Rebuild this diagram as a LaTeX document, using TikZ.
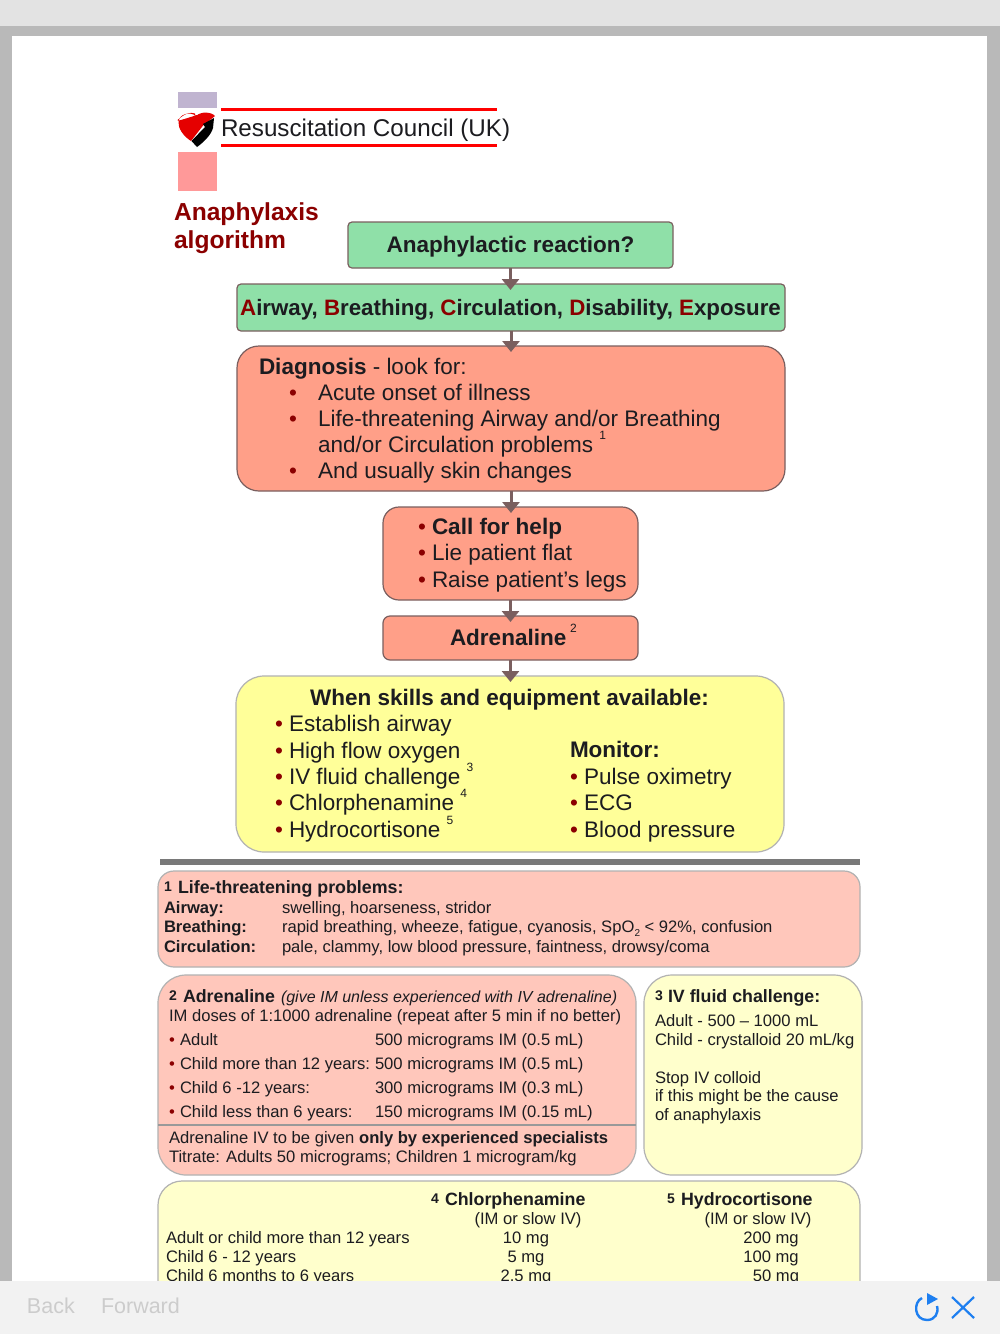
\documentclass[tikz,border=0pt]{standalone}
\usepackage{fontspec}
\setmainfont{Liberation Sans}
\usetikzlibrary{arrows.meta}
\definecolor{edgeb}{HTML}{7A5F5F}
\definecolor{grn}{HTML}{8FE0A8}
\definecolor{sal}{HTML}{FF9F88}
\definecolor{yel}{HTML}{FFFF99}
\definecolor{pinkb}{HTML}{FFC7BB}
\definecolor{yelb}{HTML}{FFFFCC}
\definecolor{dred}{HTML}{8B0000}
\definecolor{ink}{HTML}{1C1C20}
\definecolor{ios}{HTML}{1E7FF0}
\tikzset{
  tx/.style={inner sep=0pt,outer sep=0pt,anchor=base west,text=ink},
  tc/.style={inner sep=0pt,outer sep=0pt,anchor=base,text=ink},
  fs/.style={font=\fontsize{#1}{#1}\selectfont},
  boxa/.style={draw=edgeb,line width=1.2pt,inner sep=0pt,outer sep=0pt},
  boxb/.style={draw=black!30,line width=1.2pt,inner sep=0pt,outer sep=0pt},
  flow/.style={draw=edgeb,line width=3pt,-{Triangle[width=17pt,length=11pt]},shorten >=-6pt},
  bul/.style={inner sep=0pt,outer sep=0pt,anchor=base west,text=dred},
  lg/.style={fs=22.5},
  md/.style={fs=16.6},
  hd/.style={fs=17.8},
}
\newcommand\rbox[7]{\node[#6,rounded corners=#7pt,minimum width={(#4-#2)*1pt},minimum height={(#5-#3)*1pt}] (#1) at ({(#2+#4)/2},{(#3+#5)/2}) {};}
\newcommand\tl[5][]{\node[tx,#1] (#2) at (#3,#4) {#5};}
\newcommand\cl[5][]{\node[tc,#1] (#2) at (#3,#4) {#5};}
\newcommand\bl[4][lg]{\node[bul,#1] (#2) at (#3,#4) {•};}
\newcommand\supn[1]{\raisebox{0.55em}{\fontsize{12}{12}\selectfont #1}}
\begin{document}
\begin{tikzpicture}[x=1pt,y=-1pt]
\useasboundingbox (0,0) rectangle (1000,1334);
% window
\fill[black!27!white,fill=gray!55] (0,26) rectangle (1000,1334);
\fill[gray!22] (0,0) rectangle (1000,26);
\fill[white] (12,36) rectangle (987,1334);
% logo
\fill[fill={rgb,255:red,192;green,180;blue,208}] (178,92) rectangle (217,108);
\fill[fill={rgb,255:red,255;green,153;blue,153}] (178,152) rectangle (217,191);
\draw[red,line width=3pt] (221,109.5) -- (497,109.5);
\draw[red,line width=3pt] (221,145.5) -- (497,145.5);
\fill[red!90!black] (195,113.5) .. controls (190,112) and (186,113) .. (180,118) .. controls (175,122) .. (197,115)
  -- (205,123) -- (191,141) .. controls (183,136) and (178,128) .. (178.5,122) .. controls (179,114) and (190,111) .. (196,116)
  .. controls (201,111) and (212,112) .. (215,116) -- (204,125) -- (197,124) -- cycle;
\fill[black] (191.5,141) -- (205,127) -- (203,124) -- (214,118) -- (213,128) .. controls (211,135) and (204,142) .. (197,147) -- cycle;
\tl[fs=24.2]{rc}{221}{136}{Resuscitation Council (UK)}
\node[tx,text=dred,fs=24.6] (an1) at (174,220) {\bfseries Anaphylaxis};
\node[tx,text=dred,fs=24.6] (an2) at (174,248) {\bfseries algorithm};
% flow boxes
\rbox{g}{348}{222}{673}{268}{boxa,fill=grn}{4}
\rbox{abc}{237}{284}{785}{331}{boxa,fill=grn}{4}
\rbox{dg}{237}{346}{785}{491}{boxa,fill=sal}{22}
\rbox{cf}{383}{507}{638}{600}{boxa,fill=sal}{16}
\rbox{ad}{383}{616}{638}{660}{boxa,fill=sal}{7}
\rbox{ye}{236}{676}{784}{852}{boxb,fill=yel}{28}
\draw[flow] (g.south) -- (g.south |- abc.north);
\draw[flow] (abc.south) -- (abc.south |- dg.north);
\draw[flow] (dg.south) -- (dg.south |- cf.north);
\draw[flow] (cf.south) -- (cf.south |- ad.north);
\draw[flow] (ad.south) -- (ad.south |- ye.north);
\cl[lg]{t1}{510.5}{252}{\bfseries Anaphylactic reaction?}
\newcommand\R[1]{\textcolor{dred}{#1}}
\cl[fs=22.3]{t2}{510.5}{315}{\bfseries \R{A}irway, \R{B}reathing, \R{C}irculation, \R{D}isability, \R{E}xposure}
\tl[lg]{d0}{259}{374}{\textbf{Diagnosis} - look for:}
\bl{db1}{289}{400}\tl[lg]{d1}{318}{400}{Acute onset of illness}
\bl{db2}{289}{426}\tl[lg]{d2}{318}{426}{Life-threatening Airway and/or Breathing}
\tl[lg]{d3}{318}{452}{and/or Circulation problems \supn{1}}
\bl{db4}{289}{478}\tl[lg]{d4}{318}{478}{And usually skin changes}
\bl{cb1}{418}{534}\tl[lg]{c1}{432}{534}{\bfseries Call for help}
\bl{cb2}{418}{560}\tl[lg]{c2}{432}{560}{Lie patient flat}
\bl{cb3}{418}{587}\tl[lg]{c3}{432}{587}{Raise patient’s legs}
\tl[lg]{a1}{450}{645}{\textbf{Adrenaline}\,\supn{2}}
\cl[lg]{y0}{509.5}{705}{\bfseries When skills and equipment available:}
\bl{yb1}{275}{731}\tl[lg]{y1}{289}{731}{Establish airway}
\bl{yb2}{275}{758}\tl[lg]{y2}{289}{758}{High flow oxygen}
\bl{yb3}{275}{784}\tl[lg]{y3}{289}{784}{IV fluid challenge \supn{3}}
\bl{yb4}{275}{810}\tl[lg]{y4}{289}{810}{Chlorphenamine \supn{4}}
\bl{yb5}{275}{837}\tl[lg]{y5}{289}{837}{Hydrocortisone \supn{5}}
\tl[lg]{m0}{570}{757}{\bfseries Monitor:}
\bl{mb1}{570}{784}\tl[lg]{m1}{584}{784}{Pulse oximetry}
\bl{mb2}{570}{810}\tl[lg]{m2}{584}{810}{ECG}
\bl{mb3}{570}{837}\tl[lg]{m3}{584}{837}{Blood pressure}
% rule
\fill[gray!95!black] (160,859) rectangle (860,865);
% box 1
\rbox{b1}{158}{871}{860}{967}{boxb,fill=pinkb}{16}
\tl[fs=14]{n1}{164}{891}{\bfseries 1}
\tl[hd]{h1}{178}{893}{\bfseries Life-threatening problems:}
\tl[md]{l1}{164}{913}{\bfseries Airway:}\tl[md]{l1b}{282}{913}{swelling, hoarseness, stridor}
\tl[md]{l2}{164}{932}{\bfseries Breathing:}\tl[md]{l2b}{282}{932}{rapid breathing, wheeze, fatigue, cyanosis, SpO\raisebox{-0.25em}{\fontsize{10}{10}\selectfont 2} < 92\%, confusion}
\tl[md]{l3}{164}{952}{\bfseries Circulation:}\tl[md]{l3b}{282}{952}{pale, clammy, low blood pressure, faintness, drowsy/coma}
% box 2
\rbox{b2}{158}{975}{636}{1175}{boxb,fill=pinkb}{28}
\draw[black!40,line width=2pt] (b2.west |- 0,1125) coordinate (dl) -- (b2.east |- 0,1125) coordinate (dr);
\tl[fs=14]{n2}{169}{1000}{\bfseries 2}
\node[tx,fs=17.8] (h2) at (183,1002) {\bfseries Adrenaline};
\tl[fs=16]{h2i}{281}{1002}{\itshape (give IM unless experienced with IV adrenaline)}
\tl[md]{i0}{169}{1021}{IM doses of 1:1000 adrenaline (repeat after 5 min if no better)}
\bl[md]{ib1}{169}{1045}\tl[md]{i1}{180}{1045}{Adult}\tl[md]{i1b}{375}{1045}{500 micrograms IM (0.5 mL)}
\bl[md]{ib2}{169}{1069}\tl[md]{i2}{180}{1069}{Child more than 12 years:}\tl[md]{i2b}{375}{1069}{500 micrograms IM (0.5 mL)}
\bl[md]{ib3}{169}{1093}\tl[md]{i3}{180}{1093}{Child 6 -12 years:}\tl[md]{i3b}{375}{1093}{300 micrograms IM (0.3 mL)}
\bl[md]{ib4}{169}{1117}\tl[md]{i4}{180}{1117}{Child less than 6 years:}\tl[md]{i4b}{375}{1117}{150 micrograms IM (0.15 mL)}
\tl[md]{i5}{169}{1143}{Adrenaline IV to be given \textbf{only by experienced specialists}}
\tl[md]{i6}{169}{1162}{Titrate: Adults 50 micrograms; Children 1 microgram/kg}
% box 3
\rbox{b3}{644}{975}{862}{1175}{boxb,fill=yelb}{28}
\tl[fs=14]{n3}{655}{1000}{\bfseries 3}
\tl[hd]{h3}{668}{1002}{\bfseries IV fluid challenge:}
\tl[md]{f1}{655}{1026}{Adult - 500 – 1000 mL}
\tl[md]{f2}{655}{1045}{Child - crystalloid 20 mL/kg}
\tl[md]{f3}{655}{1083}{Stop IV colloid}
\tl[md]{f4}{655}{1101}{if this might be the cause}
\tl[md]{f5}{655}{1120}{of anaphylaxis}
% box 4
\rbox{b4}{158}{1181}{860}{1310}{boxb,fill=yelb}{24}
\tl[fs=14]{n4}{431}{1203}{\bfseries 4}
\tl[hd]{h4}{445}{1205}{\bfseries Chlorphenamine}
\cl[md]{h4b}{528}{1224}{(IM or slow IV)}
\tl[fs=14]{n5}{667}{1203}{\bfseries 5}
\tl[hd]{h5}{681}{1205}{\bfseries Hydrocortisone}
\cl[md]{h5b}{758}{1224}{(IM or slow IV)}
\tl[md]{r1}{166}{1243}{Adult or child more than 12 years}\cl[md]{r1a}{526}{1243}{10 mg}\cl[md]{r1b}{771}{1243}{200 mg}
\tl[md]{r2}{166}{1262}{Child 6 - 12 years}\cl[md]{r2a}{526}{1262}{5 mg}\cl[md]{r2b}{771}{1262}{100 mg}
\tl[md]{r3}{166}{1281}{Child 6 months to 6 years}\cl[md]{r3a}{526}{1281}{2.5 mg}\cl[md]{r3b}{776}{1281}{50 mg}
% bottom bar
\fill[gray!10] (0,1281) rectangle (1000,1334);
\node[tx,fs=21.5,text=black!20] (back) at (27,1313) {Back};
\node[tx,fs=21.5,text=black!20] (fwd) at (101,1313) {Forward};
\draw[ios,line width=2.4pt] (922,1298) .. controls (913,1302) and (914,1320) .. (927,1320) .. controls (935,1320) and (939,1313) .. (937,1306);
\fill[ios] (927,1293) -- (938,1299) -- (927,1305) -- cycle;
\draw[ios,line width=2.2pt] (952,1297) -- (974,1318) (974,1297) -- (952,1318);
\end{tikzpicture}
\end{document}
